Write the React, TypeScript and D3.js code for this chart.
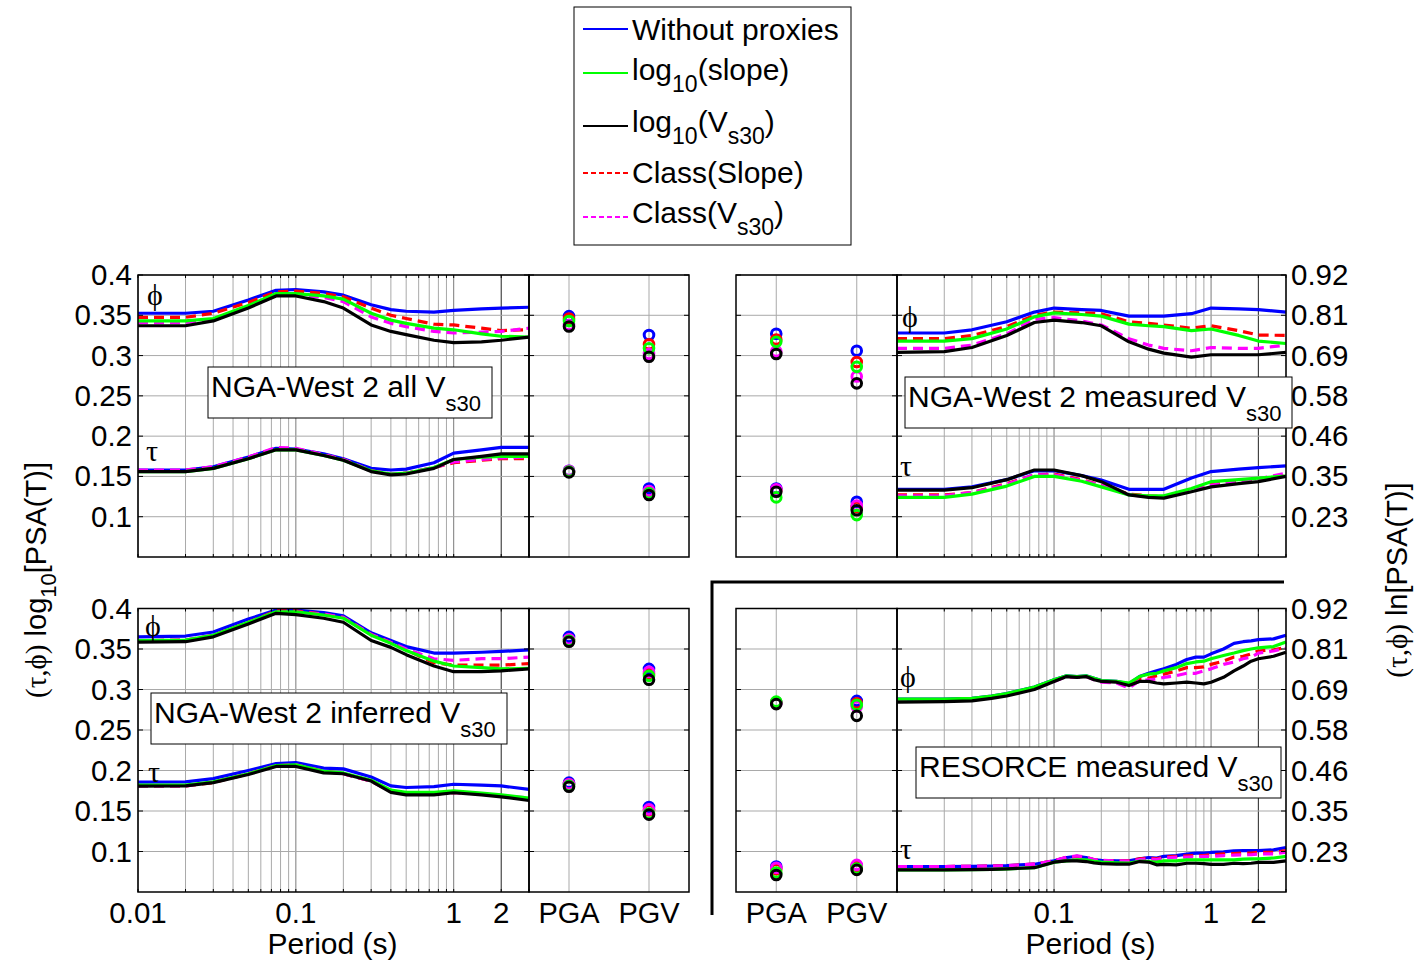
import React from "react";
import * as d3 from "d3";

// ---------- series ----------
const SERIES_NAMES = ["Without proxies", "log10(slope)", "log10(Vs30)", "Class(Slope)", "Class(Vs30)"];
const SERIES_COLORS = ["#0000ff", "#00ff00", "#000000", "#ff0000", "#ff00ff"];
const SERIES_DASHED = [false, false, false, true, true];
const DRAW_ORDER = [0, 3, 4, 1, 2];

// ---------- axes ----------
const NGA_PERIODS = [0.01, 0.02, 0.03, 0.05, 0.075, 0.1, 0.15, 0.2, 0.3, 0.4, 0.5, 0.75, 1, 1.5, 2, 3];
const RESORCE_PERIODS = [0.01, 0.02, 0.03, 0.04, 0.05, 0.075, 0.1, 0.12, 0.14, 0.16, 0.18, 0.2, 0.25, 0.3, 0.35, 0.4, 0.45, 0.5, 0.6, 0.7, 0.8, 0.9, 1, 1.2, 1.4, 1.6, 1.8, 2, 2.5, 3];
const PERIOD_TICKS = [0.01, 0.1, 1, 2];
const Y_TICKS = [0.1, 0.15, 0.2, 0.25, 0.3, 0.35, 0.4];
const PEAK_CATS = ["PGA", "PGV"];

// ---------- NGA-West 2 all Vs30 (series order: blue, green, black, red, magenta) ----------
const ALL_PHI = [
  [0.3525, 0.3525, 0.355, 0.369, 0.381, 0.382, 0.379, 0.375, 0.363, 0.357, 0.355, 0.354, 0.356, 0.358, 0.359, 0.360],
  [0.343, 0.343, 0.346, 0.362, 0.377, 0.377, 0.374, 0.370, 0.3525, 0.344, 0.340, 0.334, 0.332, 0.327, 0.324, 0.323],
  [0.337, 0.337, 0.343, 0.359, 0.374, 0.374, 0.367, 0.359, 0.338, 0.330, 0.326, 0.319, 0.316, 0.317, 0.319, 0.323],
  [0.3475, 0.3475, 0.3525, 0.366, 0.379, 0.380, 0.377, 0.373, 0.359, 0.350, 0.346, 0.339, 0.338, 0.334, 0.331, 0.332],
  [0.341, 0.341, 0.345, 0.361, 0.376, 0.376, 0.372, 0.367, 0.348, 0.340, 0.336, 0.330, 0.328, 0.329, 0.330, 0.334],
];
const ALL_TAU = [
  [0.158, 0.158, 0.162, 0.174, 0.185, 0.184, 0.178, 0.172, 0.160, 0.158, 0.159, 0.167, 0.179, 0.183, 0.186, 0.186],
  [0.156, 0.156, 0.160, 0.172, 0.183, 0.183, 0.176, 0.170, 0.157, 0.153, 0.154, 0.161, 0.171, 0.174, 0.175, 0.175],
  [0.156, 0.156, 0.160, 0.172, 0.183, 0.183, 0.176, 0.170, 0.156, 0.152, 0.153, 0.160, 0.171, 0.175, 0.178, 0.178],
  [0.157, 0.157, 0.161, 0.173, 0.185, 0.184, 0.177, 0.171, 0.157, 0.153, 0.154, 0.161, 0.167, 0.170, 0.172, 0.172],
  [0.158, 0.158, 0.162, 0.174, 0.186, 0.185, 0.177, 0.171, 0.157, 0.153, 0.154, 0.161, 0.168, 0.171, 0.173, 0.174],
];
const ALL_PEAK_PHI = [[0.349, 0.3255], [0.343, 0.309], [0.336, 0.2985], [0.346, 0.314], [0.338, 0.302]];
const ALL_PEAK_TAU = [[0.157, 0.135], [0.156, 0.129], [0.155, 0.127], [0.156, 0.131], [0.157, 0.132]];

// ---------- NGA-West 2 measured Vs30 ----------
const MEAS_PHI = [
  [0.328, 0.328, 0.332, 0.342, 0.354, 0.359, 0.357, 0.356, 0.349, 0.349, 0.349, 0.352, 0.359, 0.358, 0.357, 0.354],
  [0.318, 0.318, 0.321, 0.333, 0.348, 0.353, 0.351, 0.349, 0.339, 0.337, 0.336, 0.331, 0.333, 0.325, 0.318, 0.315],
  [0.304, 0.305, 0.310, 0.325, 0.341, 0.344, 0.341, 0.337, 0.317, 0.308, 0.303, 0.298, 0.301, 0.301, 0.301, 0.304],
  [0.321, 0.321, 0.325, 0.336, 0.350, 0.354, 0.353, 0.352, 0.342, 0.340, 0.338, 0.334, 0.337, 0.331, 0.3255, 0.325],
  [0.309, 0.309, 0.313, 0.327, 0.345, 0.347, 0.343, 0.338, 0.321, 0.313, 0.309, 0.306, 0.310, 0.309, 0.309, 0.313],
];
const MEAS_TAU = [
  [0.134, 0.134, 0.137, 0.146, 0.157, 0.157, 0.151, 0.1455, 0.134, 0.134, 0.134, 0.148, 0.156, 0.159, 0.161, 0.163],
  [0.124, 0.124, 0.128, 0.138, 0.150, 0.150, 0.144, 0.137, 0.127, 0.126, 0.126, 0.135, 0.1435, 0.146, 0.148, 0.1505],
  [0.133, 0.133, 0.136, 0.146, 0.158, 0.158, 0.151, 0.1435, 0.127, 0.124, 0.123, 0.131, 0.137, 0.141, 0.1435, 0.150],
  [0.127, 0.127, 0.130, 0.141, 0.152, 0.153, 0.146, 0.139, 0.128, 0.126, 0.125, 0.133, 0.140, 0.144, 0.147, 0.151],
  [0.126, 0.126, 0.130, 0.140, 0.152, 0.152, 0.145, 0.139, 0.127, 0.125, 0.124, 0.132, 0.139, 0.144, 0.147, 0.154],
];
const MEAS_PEAK_PHI = [[0.327, 0.306], [0.317, 0.286], [0.302, 0.2655], [0.320, 0.292], [0.305, 0.274]];
const MEAS_PEAK_TAU = [[0.135, 0.1186], [0.124, 0.102], [0.131, 0.108], [0.133, 0.112], [0.134, 0.114]];

// ---------- NGA-West 2 inferred Vs30 ----------
const INF_PHI = [
  [0.365, 0.366, 0.371, 0.387, 0.398, 0.398, 0.395, 0.391, 0.370, 0.3605, 0.353, 0.345, 0.345, 0.346, 0.347, 0.349],
  [0.3605, 0.361, 0.367, 0.383, 0.396, 0.396, 0.392, 0.388, 0.367, 0.357, 0.348, 0.335, 0.329, 0.327, 0.3255, 0.326],
  [0.3585, 0.359, 0.365, 0.381, 0.394, 0.3925, 0.388, 0.383, 0.3605, 0.352, 0.343, 0.329, 0.322, 0.322, 0.323, 0.3255],
  [0.360, 0.361, 0.367, 0.383, 0.397, 0.397, 0.393, 0.389, 0.368, 0.358, 0.349, 0.333, 0.330, 0.330, 0.330, 0.332],
  [0.360, 0.361, 0.367, 0.383, 0.396, 0.396, 0.393, 0.389, 0.368, 0.358, 0.350, 0.338, 0.336, 0.338, 0.338, 0.340],
];
const INF_TAU = [
  [0.1856, 0.186, 0.190, 0.200, 0.2085, 0.2097, 0.203, 0.202, 0.192, 0.181, 0.179, 0.180, 0.183, 0.182, 0.181, 0.1766],
  [0.182, 0.182, 0.186, 0.196, 0.206, 0.207, 0.199, 0.197, 0.188, 0.1757, 0.173, 0.173, 0.175, 0.172, 0.170, 0.166],
  [0.1807, 0.181, 0.185, 0.195, 0.205, 0.205, 0.197, 0.196, 0.187, 0.173, 0.170, 0.170, 0.1725, 0.170, 0.1675, 0.163],
  [0.181, 0.181, 0.185, 0.196, 0.206, 0.207, 0.199, 0.196, 0.187, 0.174, 0.171, 0.171, 0.173, 0.171, 0.169, 0.165],
  [0.181, 0.181, 0.186, 0.196, 0.206, 0.207, 0.199, 0.196, 0.187, 0.174, 0.171, 0.171, 0.173, 0.171, 0.169, 0.166],
];
const INF_PEAK_PHI = [[0.365, 0.3255], [0.360, 0.317], [0.359, 0.312], [0.361, 0.319], [0.362, 0.322]];
const INF_PEAK_TAU = [[0.185, 0.155], [0.181, 0.147], [0.180, 0.1455], [0.183, 0.151], [0.183, 0.152]];

// ---------- RESORCE measured Vs30 ----------
const RES_PHI = [
  [0.288, 0.288, 0.289, 0.292, 0.295, 0.303, 0.312, 0.317, 0.316, 0.317, 0.314, 0.311, 0.310, 0.307, 0.316, 0.320, 0.323, 0.3255, 0.331, 0.337, 0.340, 0.340, 0.344, 0.350, 0.357, 0.359, 0.360, 0.3615, 0.3625, 0.367],
  [0.288, 0.288, 0.289, 0.292, 0.295, 0.303, 0.312, 0.317, 0.316, 0.317, 0.314, 0.311, 0.310, 0.308, 0.316, 0.319, 0.320, 0.323, 0.327, 0.332, 0.334, 0.335, 0.338, 0.342, 0.345, 0.348, 0.350, 0.3515, 0.353, 0.3585],
  [0.2845, 0.285, 0.286, 0.289, 0.292, 0.300, 0.310, 0.316, 0.315, 0.316, 0.312, 0.310, 0.309, 0.305, 0.310, 0.310, 0.308, 0.307, 0.308, 0.309, 0.308, 0.307, 0.309, 0.315, 0.323, 0.329, 0.335, 0.338, 0.341, 0.346],
  [0.287, 0.287, 0.288, 0.291, 0.294, 0.302, 0.311, 0.316, 0.315, 0.316, 0.313, 0.310, 0.309, 0.306, 0.313, 0.314, 0.317, 0.319, 0.323, 0.327, 0.327, 0.328, 0.331, 0.335, 0.340, 0.341, 0.344, 0.3475, 0.349, 0.352],
  [0.286, 0.286, 0.287, 0.290, 0.293, 0.301, 0.310, 0.316, 0.315, 0.316, 0.312, 0.309, 0.308, 0.302, 0.311, 0.312, 0.313, 0.315, 0.317, 0.320, 0.320, 0.323, 0.3255, 0.331, 0.334, 0.338, 0.340, 0.345, 0.3475, 0.351],
];
const RES_TAU = [
  [0.0814, 0.0814, 0.0817, 0.082, 0.0825, 0.0843, 0.0885, 0.0926, 0.094, 0.0926, 0.0897, 0.089, 0.0885, 0.0885, 0.091, 0.0926, 0.092, 0.094, 0.095, 0.0967, 0.098, 0.098, 0.0988, 0.0995, 0.1009, 0.101, 0.101, 0.101, 0.102, 0.105],
  [0.0773, 0.0773, 0.0776, 0.078, 0.0785, 0.080, 0.0868, 0.0885, 0.0897, 0.0897, 0.088, 0.0868, 0.086, 0.0856, 0.088, 0.0876, 0.087, 0.0885, 0.0885, 0.0897, 0.0897, 0.0897, 0.0897, 0.0897, 0.0897, 0.0905, 0.091, 0.091, 0.092, 0.094],
  [0.0773, 0.0773, 0.0776, 0.078, 0.0785, 0.080, 0.0868, 0.0885, 0.0885, 0.0876, 0.086, 0.085, 0.0843, 0.0843, 0.0876, 0.087, 0.0835, 0.084, 0.0835, 0.0855, 0.0855, 0.085, 0.084, 0.084, 0.0855, 0.085, 0.0855, 0.0865, 0.0865, 0.0885],
  [0.0814, 0.0814, 0.0817, 0.082, 0.0825, 0.0843, 0.0885, 0.0926, 0.094, 0.0926, 0.0897, 0.089, 0.0885, 0.0885, 0.091, 0.092, 0.091, 0.093, 0.094, 0.0945, 0.095, 0.095, 0.096, 0.097, 0.0975, 0.098, 0.098, 0.099, 0.099, 0.101],
  [0.0814, 0.0814, 0.0817, 0.082, 0.0825, 0.0843, 0.0885, 0.093, 0.0945, 0.093, 0.090, 0.089, 0.0885, 0.088, 0.090, 0.091, 0.090, 0.092, 0.093, 0.093, 0.0935, 0.094, 0.094, 0.095, 0.0955, 0.096, 0.096, 0.097, 0.097, 0.0993],
];
const RES_PEAK_PHI = [[0.284, 0.286], [0.285, 0.281], [0.282, 0.2675], [0.284, 0.283], [0.283, 0.279]];
const RES_PEAK_TAU = [[0.0814, 0.082], [0.074, 0.079], [0.071, 0.0773], [0.078, 0.081], [0.080, 0.0835]];

// ---------- styling / layout ----------
const FONT = "'Liberation Sans', Arial, Helvetica, sans-serif";
const SERIF = "'Liberation Serif', 'Times New Roman', serif";
const W = 1415;
const H = 963;

const MINOR_GRID: number[] = [];
[0.01, 0.1, 1].forEach((d) => {
  for (let k = 1; k <= 9; k++) {
    const v = d * k;
    if (v <= 3.0001) MINOR_GRID.push(v);
  }
});

type Seg = { t: string; sub?: boolean; serif?: boolean };

function Rich({ x, y, segs, size, subSize, shift, anchor = "start", transform }: any) {
  let cur = 0;
  const parts: any[] = [];
  segs.forEach((s: Seg, i: number) => {
    const target = s.sub ? shift : 0;
    const dy = target - cur;
    cur = target;
    parts.push(
      <tspan key={i} dy={dy} fontSize={s.sub ? subSize : size} fontFamily={s.serif ? SERIF : FONT}>
        {s.t}
      </tspan>
    );
  });
  return (
    <text x={x} y={y} textAnchor={anchor} transform={transform} fontFamily={FONT} fontSize={size} fill="#000">
      {parts}
    </text>
  );
}

const PANELS = [
  {
    key: "tl", name: "NGA-West 2 all V", periods: NGA_PERIODS, phi: ALL_PHI, tau: ALL_TAU, peakPhi: ALL_PEAK_PHI, peakTau: ALL_PEAK_TAU,
    top: 275, bottom: 557, perX: [138, 529], peakX: [529, 689], side: "left", xLabels: false,
    box: [208, 367, 284, 51], phiAt: [155, 294], tauAt: [152, 450],
  },
  {
    key: "tr", name: "NGA-West 2 measured V", periods: NGA_PERIODS, phi: MEAS_PHI, tau: MEAS_TAU, peakPhi: MEAS_PEAK_PHI, peakTau: MEAS_PEAK_TAU,
    top: 275, bottom: 557, perX: [897, 1286], peakX: [736, 897], side: "right", xLabels: false,
    box: [905, 377, 387, 51], phiAt: [910, 316], tauAt: [906, 465],
  },
  {
    key: "bl", name: "NGA-West 2 inferred V", periods: NGA_PERIODS, phi: INF_PHI, tau: INF_TAU, peakPhi: INF_PEAK_PHI, peakTau: INF_PEAK_TAU,
    top: 608.5, bottom: 892, perX: [138, 529], peakX: [529, 689], side: "left", xLabels: true,
    box: [151, 693, 356, 51], phiAt: [153, 625], tauAt: [154, 771],
  },
  {
    key: "br", name: "RESORCE measured V", periods: RESORCE_PERIODS, phi: RES_PHI, tau: RES_TAU, peakPhi: RES_PEAK_PHI, peakTau: RES_PEAK_TAU,
    top: 608.5, bottom: 892, perX: [897, 1286], peakX: [736, 897], side: "right", xLabels: true,
    box: [916, 747, 365, 51], phiAt: [908, 676], tauAt: [906, 848],
  },
];

function Panel({ p }: any) {
  const ys = d3.scaleLinear().domain([0.05, 0.4]).range([p.bottom, p.top]);
  const xs = d3.scaleLog().domain([0.01, 3]).range(p.perX);
  const xp = d3.scalePoint<string>().domain(PEAK_CATS).range(p.peakX).padding(0.5);
  const line = d3
    .line<number>()
    .x((_, i) => xs(p.periods[i]))
    .y((d) => ys(d));
  const [pl, pr] = p.perX;
  const [ql, qr] = p.peakX;
  const grid = "#a9a9a9";
  const lnFmt = d3.format(".2f");

  return (
    <g>
      {/* period grid */}
      {MINOR_GRID.map((v, i) => {
        const major = PERIOD_TICKS.includes(v);
        const dark = Math.abs(v - 2) < 1e-9;
        return (
          <line key={"vg" + i} x1={xs(v)} x2={xs(v)} y1={p.top} y2={p.bottom}
            stroke={dark ? "#222" : major ? "#7a7a7a" : grid} strokeWidth={1} />
        );
      })}
      {Y_TICKS.map((v) => (
        <line key={"hg" + v} x1={pl} x2={pr} y1={ys(v)} y2={ys(v)} stroke={grid} strokeWidth={1} />
      ))}
      {/* peak grid */}
      {PEAK_CATS.map((c) => (
        <line key={"pv" + c} x1={xp(c)} x2={xp(c)} y1={p.top} y2={p.bottom} stroke={grid} strokeWidth={1} />
      ))}
      {Y_TICKS.map((v) => (
        <line key={"ph" + v} x1={ql} x2={qr} y1={ys(v)} y2={ys(v)} stroke={grid} strokeWidth={1} />
      ))}

      {/* curves */}
      {DRAW_ORDER.map((s) => (
        <g key={"c" + s}>
          {[p.phi[s], p.tau[s]].map((vals: number[], j: number) => (
            <path key={j} d={line(vals) || ""} fill="none" stroke={SERIES_COLORS[s]} strokeWidth={3.2}
              strokeDasharray={SERIES_DASHED[s] ? "10,6" : undefined} strokeLinejoin="round" />
          ))}
        </g>
      ))}

      {/* peak markers */}
      {DRAW_ORDER.map((s) => (
        <g key={"m" + s}>
          {[p.peakPhi[s], p.peakTau[s]].map((vals: number[], j: number) =>
            vals.map((v, k) => (
              <circle key={j + "-" + k} cx={xp(PEAK_CATS[k])} cy={ys(v)} r={4.8} fill="none"
                stroke={SERIES_COLORS[s]} strokeWidth={3} />
            ))
          )}
        </g>
      ))}

      {/* ticks */}
      {Y_TICKS.map((v) => (
        <g key={"t" + v}>
          <line x1={pl} x2={pl + 5} y1={ys(v)} y2={ys(v)} stroke="#000" />
          <line x1={pr} x2={pr - 5} y1={ys(v)} y2={ys(v)} stroke="#000" />
          <line x1={ql} x2={ql + 5} y1={ys(v)} y2={ys(v)} stroke="#000" />
          <line x1={qr} x2={qr - 5} y1={ys(v)} y2={ys(v)} stroke="#000" />
        </g>
      ))}
      {MINOR_GRID.map((v, i) => (
        <g key={"xt" + i}>
          <line x1={xs(v)} x2={xs(v)} y1={p.bottom} y2={p.bottom - 3} stroke="#000" />
          <line x1={xs(v)} x2={xs(v)} y1={p.top} y2={p.top + 3} stroke="#000" />
        </g>
      ))}

      {/* borders */}
      <rect x={pl} y={p.top} width={pr - pl} height={p.bottom - p.top} fill="none" stroke="#000" strokeWidth={1.5} />
      <rect x={ql} y={p.top} width={qr - ql} height={p.bottom - p.top} fill="none" stroke="#000" strokeWidth={1.5} />

      {/* panel title box */}
      <rect x={p.box[0]} y={p.box[1]} width={p.box[2]} height={p.box[3]} fill="#fff" stroke="#000" strokeWidth={1} />
      <Rich x={p.box[0] + 3} y={p.box[1] + 30} size={30} subSize={22} shift={14}
        segs={[{ t: p.name }, { t: "s30", sub: true }]} />

      {/* phi / tau markers */}
      <text x={p.phiAt[0]} y={p.phiAt[1]} fontFamily={SERIF} fontSize={30} textAnchor="middle" dominantBaseline="central">ϕ</text>
      <text x={p.tauAt[0]} y={p.tauAt[1]} fontFamily={SERIF} fontSize={30} textAnchor="middle" dominantBaseline="central">τ</text>

      {/* y tick labels */}
      {Y_TICKS.map((v) =>
        p.side === "left" ? (
          <text key={"yl" + v} x={pl - 6} y={ys(v) + 10} textAnchor="end" fontFamily={FONT} fontSize={29.5}>
            {String(v)}
          </text>
        ) : (
          <text key={"yr" + v} x={pr + 5} y={ys(v) + 10} textAnchor="start" fontFamily={FONT} fontSize={29.5}>
            {lnFmt(v * Math.LN10)}
          </text>
        )
      )}

      {/* x tick labels */}
      {p.xLabels &&
        PERIOD_TICKS.filter((v) => p.side === "left" || v > 0.01).map((v) => (
          <text key={"xl" + v} x={xs(v)} y={p.bottom + 31} textAnchor="middle" fontFamily={FONT} fontSize={29.5}>
            {String(v)}
          </text>
        ))}
      {p.xLabels &&
        PEAK_CATS.map((c) => (
          <text key={"xc" + c} x={xp(c)} y={p.bottom + 31} textAnchor="middle" fontFamily={FONT} fontSize={29}>
            {c}
          </text>
        ))}
      {p.xLabels && (
        <text x={(pl + pr) / 2 - 1} y={p.bottom + 62} textAnchor="middle" fontFamily={FONT} fontSize={30}>
          Period (s)
        </text>
      )}
    </g>
  );
}

const LEGEND_ENTRIES: Seg[][] = [
  [{ t: "Without proxies" }],
  [{ t: "log" }, { t: "10", sub: true }, { t: "(slope)" }],
  [{ t: "log" }, { t: "10", sub: true }, { t: "(V" }, { t: "s30", sub: true }, { t: ")" }],
  [{ t: "Class(Slope)" }],
  [{ t: "Class(V" }, { t: "s30", sub: true }, { t: ")" }],
];
const LEGEND_BASE = [40, 80, 132, 183, 223];
const LEGEND_LINE = [29, 73, 126, 173, 217];

function Legend() {
  return (
    <g>
      <rect x={574} y={7} width={277} height={238} fill="#fff" stroke="#000" strokeWidth={1} />
      {SERIES_NAMES.map((n, i) => (
        <g key={n}>
          <line x1={583} x2={628} y1={LEGEND_LINE[i]} y2={LEGEND_LINE[i]} stroke={SERIES_COLORS[i]} strokeWidth={2}
            strokeDasharray={SERIES_DASHED[i] ? "5,3" : undefined} />
          <Rich x={632} y={LEGEND_BASE[i]} size={30} subSize={23} shift={12} segs={LEGEND_ENTRIES[i]} />
        </g>
      ))}
    </g>
  );
}

export default function App() {
  return (
    <svg width={W} height={H} style={{ position: "absolute", left: 0, top: 0, background: "#fff" }}>
      <rect x={0} y={0} width={W} height={H} fill="#fff" />
      {PANELS.map((p) => (
        <Panel key={p.key} p={p} />
      ))}
      <path d="M712,915 V582 H1284" fill="none" stroke="#000" strokeWidth={3} />
      <Legend />
      <Rich x={46} y={580} anchor="middle" transform="rotate(-90 46 580)" size={29} subSize={22} shift={10}
        segs={[{ t: "(τ,ϕ)", serif: true }, { t: " log" }, { t: "10", sub: true }, { t: "[PSA(T)]" }]} />
      <Rich x={1407} y={580} anchor="middle" transform="rotate(-90 1407 580)" size={29} subSize={22} shift={10}
        segs={[{ t: "(τ,ϕ)", serif: true }, { t: " ln[PSA(T)]" }]} />
    </svg>
  );
}
